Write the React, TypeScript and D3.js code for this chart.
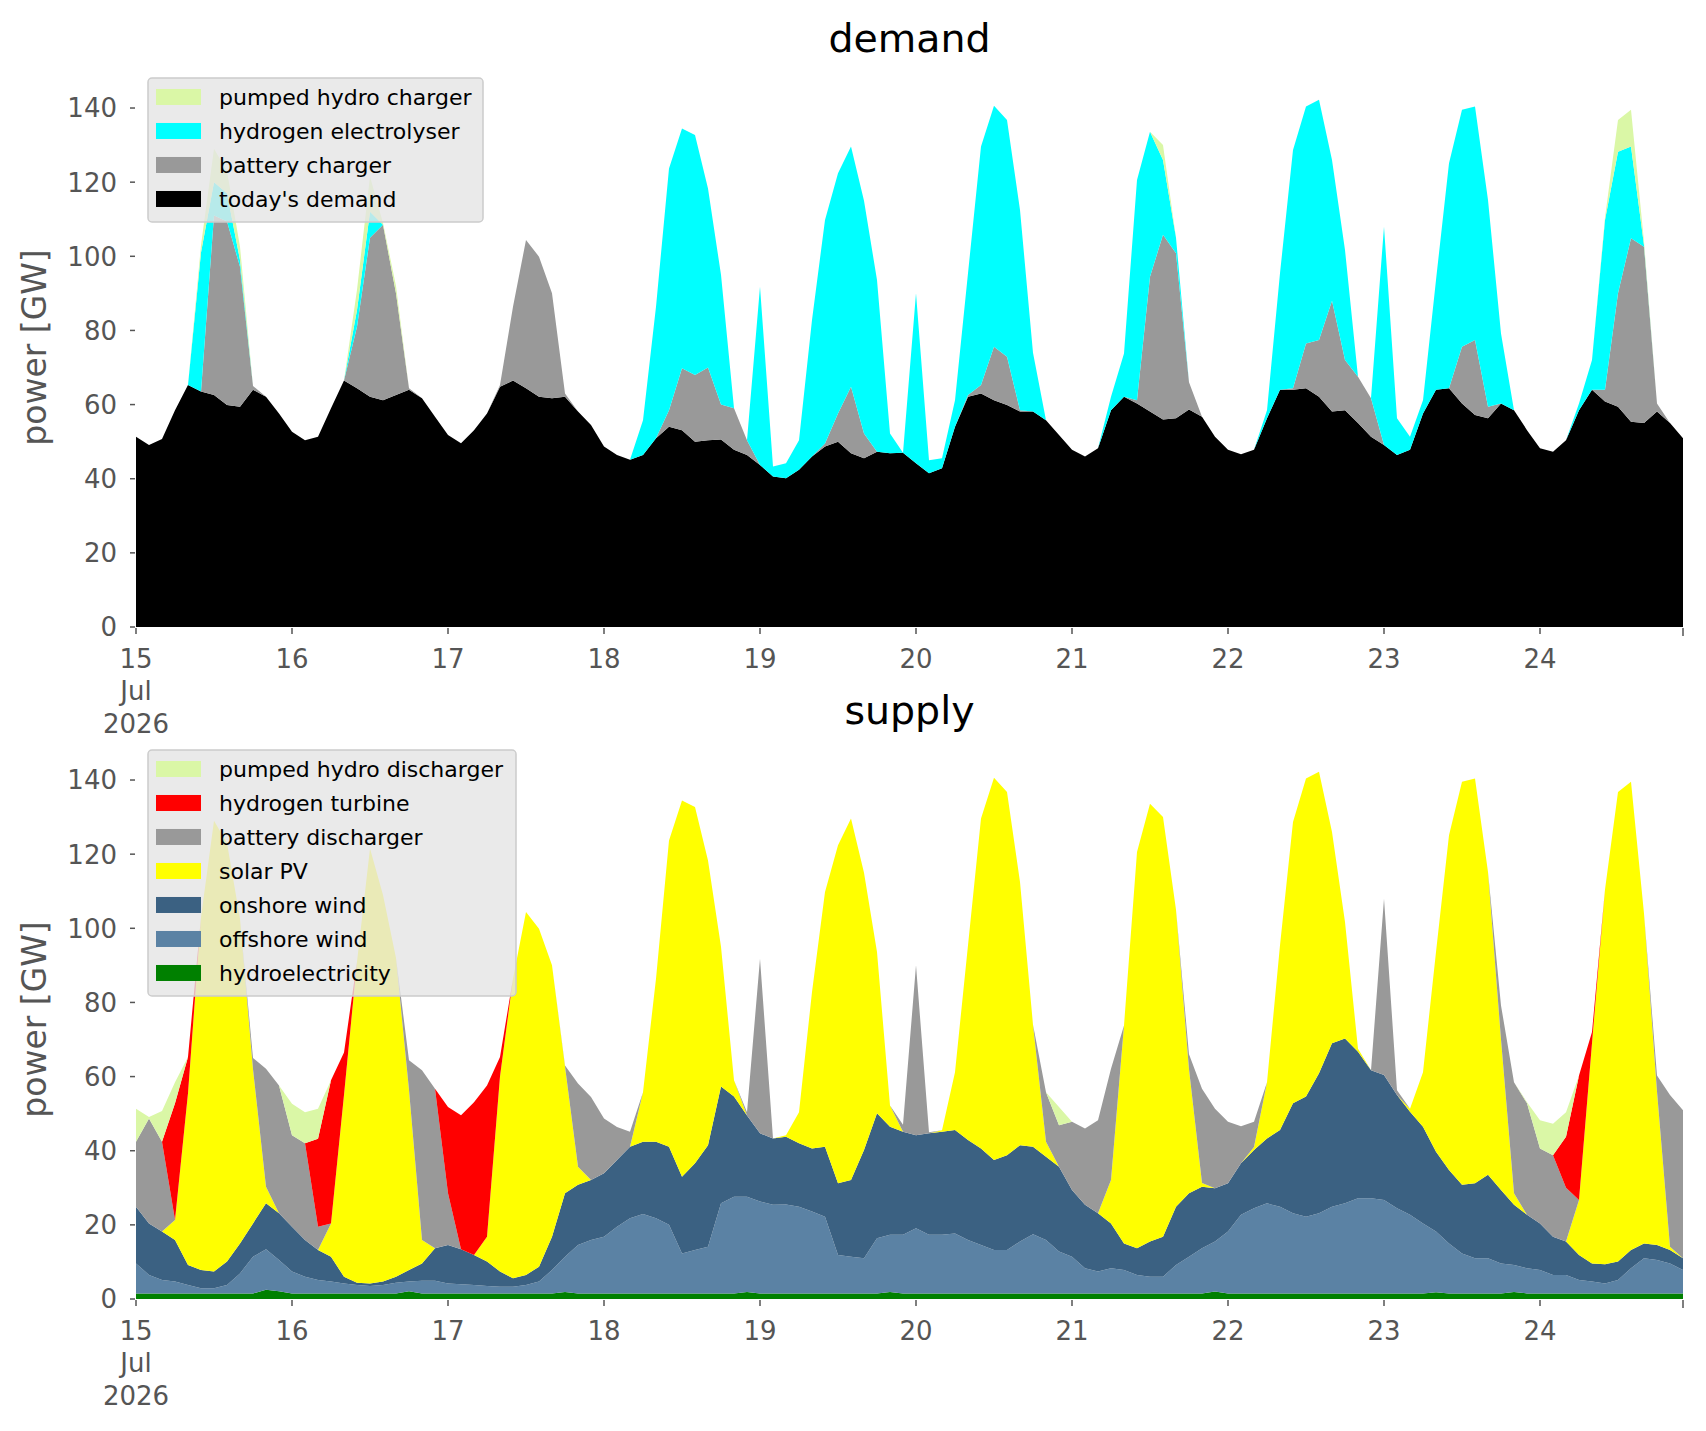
import * as d3 from 'd3';

// two-hourly samples, 15 Jul 2026 00:00 -> 24 Jul 2026 22:00 (UTC), values in GW
const START = Date.UTC(2026, 6, 15, 0);
const STEP_HOURS = 2;

// ---- demand side ----
const todaysDemand = [
  51.3, 49.1, 50.7, 58.5, 65.3, 63.5, 62.6, 59.9, 59.4, 64.0,
  62.1, 57.6, 52.7, 50.4, 51.3, 59.0, 66.5, 64.4, 62.1, 61.2,
  62.6, 64.0, 61.7, 56.7, 51.8, 49.6, 53.1, 57.6, 64.8, 66.5,
  64.4, 62.1, 61.7, 62.1, 58.1, 54.5, 48.7, 46.4, 45.1, 46.4,
  50.9, 54.0, 53.1, 50.0, 50.4, 50.6, 47.8, 46.4, 43.7, 40.6,
  40.1, 42.4, 46.0, 48.7, 50.0, 46.9, 45.5, 47.3, 46.9, 47.0,
  44.2, 41.5, 42.8, 54.0, 62.1, 63.0, 61.2, 59.9, 58.1, 58.1,
  55.8, 51.8, 47.8, 46.0, 48.2, 58.5, 62.1, 60.3, 58.1, 56.0,
  56.3, 58.7, 56.7, 51.3, 47.8, 46.6, 47.8, 56.3, 64.0, 64.0,
  64.4, 62.1, 58.1, 58.5, 55.0, 51.3, 49.1, 46.4, 47.8, 57.6,
  64.0, 64.4, 60.3, 57.2, 56.3, 60.3, 58.5, 53.1, 48.2, 47.3,
  50.4, 58.5, 64.0, 60.8, 59.4, 55.4, 55.0, 58.1, 55.0, 50.9,
];
const batteryCharger = [
  0, 0, 0, 0, 0, 0, 48.4, 49.5, 37.8, 1.0,
  0, 0, 0, 0, 0, 0, 0, 16.6, 42.9, 47.3,
  27.4, 0.4, 0, 0, 0, 0, 0, 0, 0.5, 19.9,
  40.0, 37.8, 28.3, 0.9, 0, 0, 0, 0, 0, 0,
  0, 4.5, 16.7, 18.0, 19.6, 9.4, 11.2, 4.0, 0, 0,
  0, 0, 0, 0.8, 7.6, 17.9, 6.7, 0, 0, 0,
  0, 0, 0, 0, 0.5, 2.3, 14.4, 13.0, 0.4, 0,
  0, 0, 0, 0, 0, 0, 0, 0.9, 36.4, 49.8,
  44.5, 7.3, 0, 0, 0, 0, 0, 0, 0, 0.4,
  12.1, 15.3, 29.9, 13.5, 12.5, 10.4, 0, 0, 0, 0,
  0, 0, 15.3, 20.2, 3.1, 0, 0, 0, 0, 0,
  0, 0, 0, 3.2, 30.6, 49.5, 47.6, 2.2, 0, 0,
];
const hydrogenElectrolyser = [
  0, 0, 0, 0, 0, 37.5, 9.0, 7.6, 1.8, 0,
  0, 0, 0, 0, 0, 0, 0, 4.5, 7.0, 0,
  0, 0, 0, 0, 0, 0, 0, 0, 0, 0,
  0, 0, 0, 0, 0, 0, 0, 0, 0, 9.4,
  35.5, 65.2, 64.7, 64.7, 48.3, 35.0, 0, 0, 48.1, 2.7,
  4.1, 8.0, 36.8, 60.3, 64.8, 64.8, 62.8, 46.3, 5.3, 0,
  45.8, 3.5, 2.7, 7.2, 32.8, 64.3, 65.0, 63.9, 54.0, 15.9,
  0, 0, 0, 0, 0, 3.6, 11.7, 59.4, 39.1, 20.2,
  4.2, 0, 0, 0, 0, 0, 0, 2.2, 31.4, 64.3,
  63.9, 64.8, 38.0, 29.7, 0, 0, 58.9, 9.9, 3.5, 3.6,
  29.6, 60.7, 63.9, 63.0, 55.8, 18.9, 0, 0, 0, 0,
  0, 1.8, 8.0, 45.8, 38.2, 24.7, 0.4, 0, 0, 0,
];
const pumpedHydroCharger = [
  0, 0, 0, 0, 0, 2.0, 9.0, 6.0, 3.6, 0,
  0, 0, 0, 0, 0, 0, 0, 5.5, 9.5, 0.5,
  2.0, 0, 0, 0, 0, 0, 0, 0, 0, 0,
  0, 0, 0, 0, 0, 0, 0, 0, 0, 0,
  0, 0, 0, 0, 0, 0, 0, 0, 0, 0,
  0, 0, 0, 0, 0, 0, 0, 0, 0, 0,
  0, 0, 0, 0, 0, 0, 0, 0, 0, 0,
  0, 0, 0, 0, 0, 0, 0, 0, 0, 4.0,
  0, 0, 0, 0, 0, 0, 0, 0, 0, 0,
  0, 0, 0, 0, 0, 0, 0, 0, 0, 0,
  0, 0, 0, 0, 0, 0, 0, 0, 0, 0,
  0, 0, 0, 0.7, 8.6, 9.9, 1.0, 0, 0, 0,
];

// ---- supply side ----
const hydroelectricity = [
  1.5, 1.5, 1.5, 1.5, 1.5, 1.5, 1.5, 1.5, 1.5, 1.5,
  2.5, 2.1, 1.5, 1.5, 1.5, 1.5, 1.5, 1.5, 1.5, 1.5,
  1.5, 2.1, 1.5, 1.5, 1.5, 1.5, 1.5, 1.5, 1.5, 1.5,
  1.5, 1.5, 1.5, 1.9, 1.5, 1.5, 1.5, 1.5, 1.5, 1.5,
  1.5, 1.5, 1.5, 1.5, 1.5, 1.5, 1.5, 1.9, 1.5, 1.5,
  1.5, 1.5, 1.5, 1.5, 1.5, 1.5, 1.5, 1.5, 1.9, 1.5,
  1.5, 1.5, 1.5, 1.5, 1.5, 1.5, 1.5, 1.5, 1.5, 1.5,
  1.5, 1.5, 1.5, 1.5, 1.5, 1.5, 1.5, 1.5, 1.5, 1.5,
  1.5, 1.5, 1.5, 2.0, 1.5, 1.5, 1.5, 1.5, 1.5, 1.5,
  1.5, 1.5, 1.5, 1.5, 1.5, 1.5, 1.5, 1.5, 1.5, 1.5,
  1.8, 1.5, 1.5, 1.5, 1.5, 1.5, 1.9, 1.5, 1.5, 1.5,
  1.5, 1.5, 1.5, 1.5, 1.5, 1.5, 1.5, 1.5, 1.5, 1.5,
];
const offshoreWind = [
  8.1, 5.0, 3.6, 3.2, 2.3, 1.4, 1.4, 2.3, 5.4, 9.9,
  10.9, 8.4, 5.9, 4.5, 3.6, 3.2, 2.7, 2.3, 2.0, 2.3,
  2.9, 2.6, 3.4, 3.4, 2.7, 2.5, 2.3, 2.0, 1.8, 1.8,
  2.3, 3.2, 6.3, 9.5, 13.1, 14.4, 15.3, 18.0, 20.3, 21.4,
  20.3, 18.5, 10.8, 11.7, 12.6, 24.3, 26.1, 25.7, 24.8, 23.9,
  24.0, 23.4, 22.1, 20.7, 10.4, 9.9, 9.5, 14.9, 15.4, 15.8,
  17.6, 15.8, 15.8, 16.2, 14.4, 13.1, 11.7, 11.7, 14.0, 16.0,
  14.4, 11.3, 9.9, 6.8, 5.9, 6.8, 6.3, 5.0, 4.5, 4.5,
  7.7, 9.9, 12.2, 13.5, 16.7, 21.2, 23.0, 24.3, 23.4, 21.6,
  20.7, 21.6, 23.4, 24.3, 25.7, 25.7, 25.2, 23.0, 21.2, 18.9,
  16.4, 13.5, 10.8, 9.5, 9.5, 8.1, 7.3, 6.8, 6.3, 5.0,
  5.0, 3.6, 3.2, 2.7, 3.6, 6.8, 9.5, 9.0, 8.1, 6.3,
];
const onshoreWind = [
  15.3, 13.9, 13.1, 11.2, 5.4, 4.9, 4.5, 6.3, 8.1, 9.0,
  12.4, 12.6, 12.1, 9.9, 8.1, 6.7, 1.8, 0.6, 0.7, 0.9,
  1.6, 3.1, 4.7, 8.8, 10.4, 9.4, 8.1, 6.6, 4.1, 2.3,
  2.7, 4.0, 9.0, 17.1, 16.2, 16.2, 17.1, 18.0, 19.3, 19.5,
  20.6, 21.1, 20.7, 23.4, 27.4, 31.5, 27.0, 21.9, 18.4, 17.9,
  18.3, 17.1, 17.0, 18.9, 19.3, 20.7, 29.2, 33.7, 29.2, 27.8,
  25.1, 27.4, 27.8, 27.9, 27.0, 26.0, 24.3, 25.6, 26.0, 23.6,
  22.5, 22.9, 18.0, 17.1, 15.7, 12.1, 7.2, 7.2, 9.5, 10.8,
  15.7, 17.1, 16.6, 14.4, 13.0, 13.9, 15.7, 17.5, 20.7, 29.7,
  32.4, 37.8, 44.1, 44.5, 39.5, 34.5, 33.7, 30.5, 27.8, 26.1,
  21.5, 19.8, 18.5, 20.2, 22.5, 19.8, 16.2, 14.4, 12.6, 10.3,
  9.0, 6.8, 4.9, 5.2, 5.0, 4.9, 4.0, 4.1, 3.6, 3.2,
];
const solarPV = [
  0, 0, 0, 5.4, 46.3, 95.2, 121.6, 112.9, 87.6, 41.6,
  4.5, 0, 0, 0, 0, 9.0, 49.0, 86.6, 117.3, 104.3,
  86.0, 48.6, 6.3, 0, 0, 0, 0, 6.7, 52.6, 80.8,
  97.9, 91.2, 73.2, 34.2, 4.9, 0, 0, 0, 0, 13.4,
  44.0, 82.6, 101.5, 96.1, 76.8, 37.7, 4.4, 0, 0, 0,
  0.4, 8.4, 42.2, 68.7, 91.2, 97.5, 74.8, 43.5, 5.7, 0,
  0, 0, 0.4, 15.6, 52.5, 89.0, 103.1, 98.0, 71.0, 32.9,
  4.0, 0, 0, 0, 0, 11.7, 58.8, 106.9, 118.1, 113.2,
  80.1, 33.5, 1.0, 0, 0, 0, 0.8, 15.2, 49.8, 75.9,
  85.8, 81.3, 57.0, 31.4, 0.8, 0, 0, 0, 0.8, 14.7,
  53.9, 90.3, 108.7, 109.2, 81.7, 40.6, 3.1, 0, 0, 0,
  0, 14.8, 59.4, 101.1, 126.7, 126.3, 89.0, 41.4, 0.9, 0,
];
const batteryDischarger = [
  17.5, 28.3, 24.2, 0, 0, 0, 0, 0, 0, 3.0,
  31.8, 34.5, 24.7, 26.1, 6.3, 0, 0, 0, 0, 0,
  0, 8.0, 45.8, 43.0, 13.9, 0, 0, 0, 0, 0,
  0, 0, 0, 0.3, 22.4, 22.4, 14.8, 8.9, 4.0, 0,
  0, 0, 0, 0, 0, 0, 0, 0.9, 47.1, 0,
  0, 0, 0, 0, 0, 0, 0, 0, 0, 1.9,
  45.8, 0.3, 0, 0, 0, 0, 0, 0, 0, 0,
  13.4, 11.2, 18.4, 20.6, 25.1, 30.0, 0, 0, 0, 0,
  0, 4.0, 25.4, 21.4, 16.6, 10.0, 6.8, 0, 0, 0,
  0, 0, 0, 0, 0, 0, 47.6, 1.3, 0, 0,
  0, 0, 0, 0, 0, 9.2, 30.0, 30.1, 20.2, 22.0,
  14.5, 0, 0, 0, 0, 0, 0, 4.3, 40.9, 39.9,
];
const hydrogenTurbine = [
  0, 0, 0, 31.5, 9.8, 0, 0, 0, 0, 0,
  0, 0, 0, 0, 23.7, 38.6, 11.5, 0, 0, 0,
  0, 0, 0, 0, 23.3, 36.2, 41.2, 40.8, 5.3, 0,
  0, 0, 0, 0, 0, 0, 0, 0, 0, 0,
  0, 0, 0, 0, 0, 0, 0, 0, 0, 0,
  0, 0, 0, 0, 0, 0, 0, 0, 0, 0,
  0, 0, 0, 0, 0, 0, 0, 0, 0, 0,
  0, 0, 0, 0, 0, 0, 0, 0, 0, 0,
  0, 0, 0, 0, 0, 0, 0, 0, 0, 0,
  0, 0, 0, 0, 0, 0, 0, 0, 0, 0,
  0, 0, 0, 0, 0, 0, 0, 0, 0, 0,
  13.8, 33.6, 3.0, 0, 0, 0, 0, 0, 0, 0,
];
const pumpedHydroDischarger = [
  8.9, 0.4, 8.3, 5.7, 0, 0, 0, 0, 0, 0,
  0, 0, 8.5, 8.4, 8.1, 0, 0, 0, 0, 0,
  0, 0, 0, 0, 0, 0, 0, 0, 0, 0,
  0, 0, 0, 0, 0, 0, 0, 0, 0, 0,
  0, 0, 0, 0, 0, 0, 0, 0, 0, 0,
  0, 0, 0, 0, 0, 0, 0, 0, 0, 0,
  0, 0, 0, 0, 0, 0, 0, 0, 0, 0,
  0, 4.9, 0, 0, 0, 0, 0, 0, 0, 0,
  0, 0, 0, 0, 0, 0, 0, 0, 0, 0,
  0, 0, 0, 0, 0, 0, 0, 0, 0, 0,
  0, 0, 0, 0, 0, 0, 0, 0.3, 7.6, 8.5,
  6.6, 0, 0, 0, 0, 0, 0, 0, 0, 0,
];

const yTickValues = [0, 20, 40, 60, 80, 100, 120, 140];

// stack order: bottom -> top
const demandSeries = [
  { key: 'demand', label: "today's demand", color: '#000000', values: todaysDemand },
  { key: 'battery', label: 'battery charger', color: '#999999', values: batteryCharger },
  { key: 'electrolyser', label: 'hydrogen electrolyser', color: '#00FFFF', values: hydrogenElectrolyser },
  { key: 'pumped', label: 'pumped hydro charger', color: '#DAF7A6', values: pumpedHydroCharger },
];
const supplySeries = [
  { key: 'hydro', label: 'hydroelectricity', color: '#008000', values: hydroelectricity },
  { key: 'offshore', label: 'offshore wind', color: '#5B82A4', values: offshoreWind },
  { key: 'onshore', label: 'onshore wind', color: '#3B6182', values: onshoreWind },
  { key: 'solar', label: 'solar PV', color: '#FFFF00', values: solarPV },
  { key: 'battery', label: 'battery discharger', color: '#999999', values: batteryDischarger },
  { key: 'turbine', label: 'hydrogen turbine', color: '#FF0000', values: hydrogenTurbine },
  { key: 'pumped', label: 'pumped hydro discharger', color: '#DAF7A6', values: pumpedHydroDischarger },
];

type Series = { key: string; label: string; color: string; values: number[] };

const W = 1706;
const H = 1431;
const PLOT_LEFT = 136;
const PLOT_RIGHT = 1683;
const Y_MAX = 150.8;
const PX_PER_GW = 3.707;
const FONT = '"DejaVu Sans", Verdana, sans-serif';
const TICK_COLOR = '#555555';

const times = todaysDemand.map((_, i) => new Date(START + i * STEP_HOURS * 3600 * 1000));

const x = d3.scaleUtc()
  .domain([times[0], times[times.length - 1]])
  .range([PLOT_LEFT, PLOT_RIGHT]);

const dayTicks = d3.utcDay.range(times[0], times[times.length - 1]);

function Panel({ series, zeroY, title, legendWidth }: {
  series: Series[]; zeroY: number; title: string; legendWidth: number;
}) {
  const y = d3.scaleLinear().domain([0, Y_MAX]).range([zeroY, zeroY - Y_MAX * PX_PER_GW]);
  const rows = times.map((_, i) => {
    const r: Record<string, number> = {};
    series.forEach(s => { r[s.key] = s.values[i]; });
    return r;
  });
  const stacked = d3.stack<Record<string, number>>().keys(series.map(s => s.key))(rows);
  const area = d3.area<d3.SeriesPoint<Record<string, number>>>()
    .x((_, i) => x(times[i]))
    .y0(d => y(d[0]))
    .y1(d => y(d[1]));

  const axesTop = y(Y_MAX);
  const midY = (zeroY + axesTop) / 2;

  // legend, top entry = last stacked series
  const legendItems = [...series].reverse();
  const legX = 148;
  const legY = axesTop + 10;
  const rowH = 34;
  const legH = 19 + (legendItems.length - 1) * rowH + 23;

  return (
    <g>
      {stacked.map((layer, k) => (
        <path key={layer.key} d={area(layer) ?? ''} fill={series[k].color} stroke="none" />
      ))}

      {/* y axis */}
      {yTickValues.map(v => (
        <g key={v} transform={`translate(0,${y(v)})`}>
          <line x1={PLOT_LEFT - 6} x2={PLOT_LEFT - 1} stroke={TICK_COLOR} strokeWidth={1.5} />
          <text x={117} dy="0.36em" textAnchor="end" fontSize={26} fill={TICK_COLOR} fontFamily={FONT}>{v}</text>
        </g>
      ))}
      <text transform={`translate(46,${midY}) rotate(-90)`} textAnchor="middle" fontSize={33}
        fill={TICK_COLOR} fontFamily={FONT}>power [GW]</text>

      {/* x axis */}
      {dayTicks.map((d, i) => (
        <g key={+d} transform={`translate(${x(d)},${zeroY})`}>
          <line y1={1} y2={7} stroke={TICK_COLOR} strokeWidth={1.5} />
          <text y={41} textAnchor="middle" fontSize={26} fill={TICK_COLOR} fontFamily={FONT}>
            {d3.utcFormat('%-d')(d)}
          </text>
          {i === 0 && (
            <>
              <text y={73} textAnchor="middle" fontSize={26} fill={TICK_COLOR} fontFamily={FONT}>
                {d3.utcFormat('%b')(d)}
              </text>
              <text y={106} textAnchor="middle" fontSize={26} fill={TICK_COLOR} fontFamily={FONT}>
                {d3.utcFormat('%Y')(d)}
              </text>
            </>
          )}
        </g>
      ))}
      <line x1={PLOT_RIGHT} x2={PLOT_RIGHT} y1={zeroY + 1} y2={zeroY + 9} stroke={TICK_COLOR} strokeWidth={1.5} />

      <text x={(PLOT_LEFT + PLOT_RIGHT) / 2} y={axesTop - 16} textAnchor="middle" fontSize={39.5}
        fill="#000" fontFamily={FONT}>{title}</text>

      {/* legend */}
      <rect x={legX} y={legY} width={legendWidth} height={legH} rx={4} fill="#E5E5E5"
        fillOpacity={0.8} stroke="#CCCCCC" strokeWidth={1.5} />
      {legendItems.map((s, i) => {
        const cy = legY + 19 + i * rowH;
        return (
          <g key={s.key}>
            <rect x={156} y={cy - 8} width={45} height={16} fill={s.color} />
            <text x={219} y={cy + 8} fontSize={22} fill="#000" fontFamily={FONT}>{s.label}</text>
          </g>
        );
      })}
    </g>
  );
}

export default function App() {
  return (
    <svg width={W} height={H} viewBox={`0 0 ${W} ${H}`}
      style={{ position: 'absolute', left: 0, top: 0, background: '#fff' }}>
      <Panel series={demandSeries} zeroY={627} title="demand" legendWidth={335} />
      <Panel series={supplySeries} zeroY={1299} title="supply" legendWidth={368} />
    </svg>
  );
}
